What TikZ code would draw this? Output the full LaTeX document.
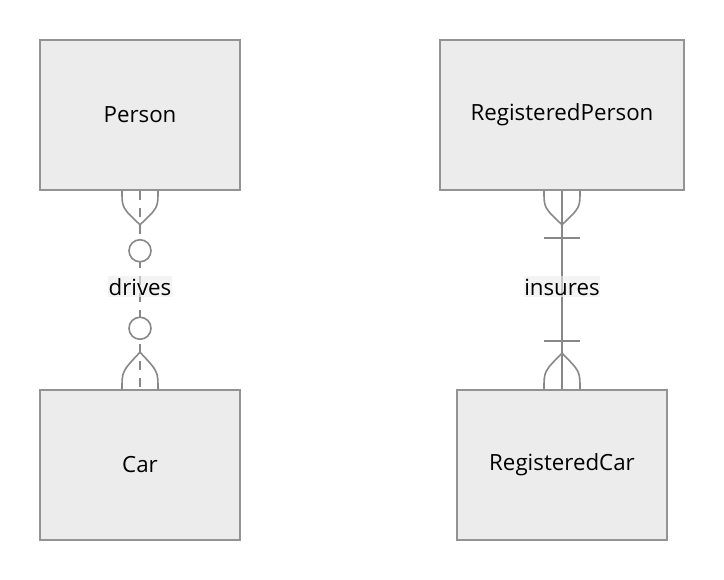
\documentclass[tikz,border=0pt]{standalone}
\usepackage{fontspec}
\setmainfont{Open Sans}
\usetikzlibrary{calc}
\begin{document}
\begin{tikzpicture}[x=1pt,y=-1pt,
  entity/.style={draw=boxline,fill=boxfill,line width=1.5pt,inner sep=0pt,font=\fontsize{22.3}{26}\selectfont},
  rel/.style={draw=relline,line width=1.6pt},
  rellabel/.style={fill=labfill,fill opacity=0.6,text opacity=1,inner sep=0pt,minimum height=21pt,font=\fontsize{22.3}{26}\selectfont}]
\definecolor{boxline}{HTML}{939393}
\definecolor{boxfill}{HTML}{ECECEC}
\definecolor{relline}{HTML}{888888}
\definecolor{labfill}{HTML}{EDEDED}
\useasboundingbox (0,0) rectangle (724,580);
% entities
\node[entity,minimum width=200pt,minimum height=150pt] (P) at (140,115) {Person};
\node[entity,minimum width=200pt,minimum height=150pt] (C) at (140,465) {Car};
\node[entity,minimum width=244pt,minimum height=150pt] (RP) at (562,115) {RegisteredPerson};
\node[entity,minimum width=210pt,minimum height=150pt] (RC) at (562,465) {RegisteredCar};
% relationship lines
\draw[rel,dash pattern=on 9pt off 8pt] (P.south) -- (C.north);
\draw[rel] (RP.south) -- (RC.north);
% left markers: zero or more at both ends
\draw[rel] ($(P.south)+(-18,0)$) .. controls ($(P.south)+(-18,17)$) .. ($(P.south)+(0,34)$)
  .. controls ($(P.south)+(18,17)$) .. ($(P.south)+(18,0)$);
\draw[rel,fill=white] ($(P.south)+(0,60)$) circle[radius=11pt];
\draw[rel] ($(C.north)+(-18,0)$) .. controls ($(C.north)+(-18,-18)$) .. ($(C.north)+(0,-37)$)
  .. controls ($(C.north)+(18,-18)$) .. ($(C.north)+(18,0)$);
\draw[rel,fill=white] ($(C.north)+(0,-61)$) circle[radius=11pt];
% right markers: one or more at both ends
\draw[rel] ($(RP.south)+(-18,0)$) .. controls ($(RP.south)+(-18,17)$) .. ($(RP.south)+(0,34)$)
  .. controls ($(RP.south)+(18,17)$) .. ($(RP.south)+(18,0)$);
\draw[rel] ($(RP.south)+(-18,47)$) -- ($(RP.south)+(18,47)$);
\draw[rel] ($(RC.north)+(-18,0)$) .. controls ($(RC.north)+(-18,-18)$) .. ($(RC.north)+(0,-36)$)
  .. controls ($(RC.north)+(18,-18)$) .. ($(RC.north)+(18,0)$);
\draw[rel] ($(RC.north)+(-18,-48)$) -- ($(RC.north)+(18,-48)$);
% labels
\node[rellabel,minimum width=64pt] (d) at (140,287) {drives};
\node[rellabel,minimum width=74pt] (i) at (562,287) {insures};
\end{tikzpicture}
\end{document}
